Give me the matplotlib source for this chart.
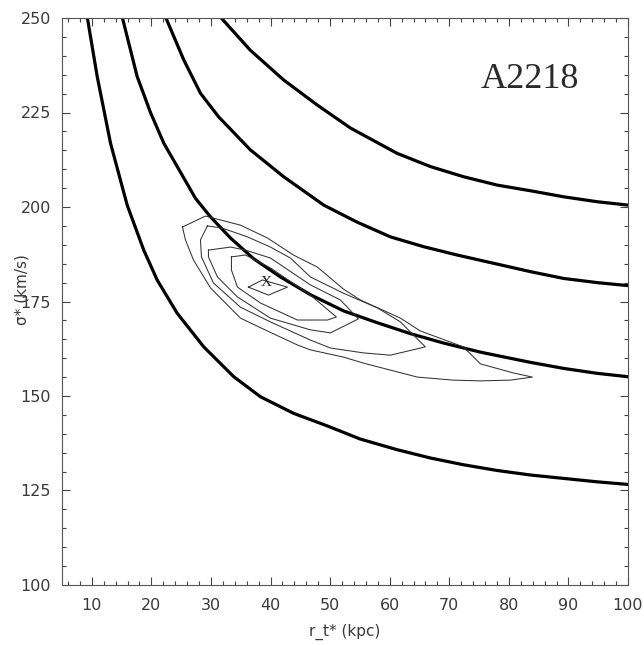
import matplotlib
matplotlib.use("Agg")
import matplotlib.pyplot as plt
from matplotlib.ticker import MultipleLocator

# Iso-mass curves (thick)
c1_r = [9.23, 10.91, 13.14, 15.94, 18.72, 20.97, 24.33, 28.79, 33.83, 38.31, 43.89, 49.50, 55.08, 61.24, 66.83, 72.42, 78.02, 83.62, 89.19, 94.80, 100]
c1_s = [250.3, 234.5, 216.9, 200.5, 188.6, 180.7, 171.9, 163.0, 155.1, 149.8, 145.4, 142.1, 138.6, 135.8, 133.6, 131.8, 130.3, 129.1, 128.2, 127.3, 126.6]

c2_r = [15.10, 17.62, 19.85, 22.08, 27.40, 29.92, 33.28, 37.18, 41.66, 46.69, 52.28, 57.89, 63.47, 69.06, 75.23, 83.62, 89.19, 94.80, 100]
c2_s = [250.3, 234.5, 225.0, 216.9, 202.3, 197.4, 191.8, 186.3, 181.5, 176.8, 172.5, 169.4, 166.5, 164.0, 161.6, 158.9, 157.3, 156.0, 155.1]

c3_r = [22.37, 25.44, 28.24, 31.26, 36.63, 42.21, 48.93, 54.53, 60.12, 65.70, 71.31, 76.90, 83.62, 89.19, 94.80, 100]
c3_s = [250.3, 238.9, 230.1, 223.9, 215.1, 208.0, 200.5, 196.0, 192.1, 189.5, 187.3, 185.3, 182.9, 181.1, 180.0, 179.2]

c4_r = [31.56, 36.59, 42.21, 47.82, 53.41, 61.24, 66.83, 72.42, 78.02, 83.62, 89.19, 94.80, 100]
c4_s = [250.3, 241.5, 233.6, 227.0, 220.9, 214.2, 210.7, 208.0, 205.8, 204.3, 202.7, 201.4, 200.5]

# Likelihood contours (thin polygons)
k1_r = [25.22, 29.08, 34.95, 39.48, 43.84, 47.87, 52.23, 55.08, 61.80, 65.15, 72.37, 75.23, 80.76, 83.95, 80.26, 75.23, 70.69, 64.65, 55.59, 52.23, 46.69, 44.51, 39.48, 34.95, 29.92, 27.06, 25.72, 25.22]
k1_s = [194.7, 197.6, 195.2, 191.8, 187.3, 184.1, 178.3, 175.4, 170.6, 167.2, 163.0, 158.5, 156.1, 155.0, 154.2, 154.0, 154.2, 155.0, 158.7, 160.3, 162.2, 163.5, 167.2, 170.6, 178.6, 186.0, 191.3, 194.7]

k2_r = [29.41, 31.93, 36.12, 39.98, 43.34, 46.69, 52.23, 57.94, 61.80, 65.15, 65.99, 60.12, 55.59, 50.05, 46.69, 39.98, 34.95, 30.42, 28.41, 28.24, 29.41]
k2_s = [195.0, 194.4, 192.1, 189.4, 186.5, 181.5, 177.2, 173.3, 169.6, 164.3, 163.0, 160.8, 161.4, 162.7, 164.8, 169.6, 173.5, 179.9, 186.8, 191.3, 195.0]

k3_r = [29.58, 33.28, 35.79, 39.98, 46.69, 51.73, 54.75, 50.05, 46.69, 39.98, 34.45, 31.09, 29.58, 29.58]
k3_s = [188.6, 189.4, 188.6, 186.5, 179.4, 175.4, 170.4, 166.7, 167.5, 170.6, 176.2, 181.5, 186.8, 188.6]

k4_r = [33.44, 35.79, 39.98, 46.69, 51.06, 49.55, 44.51, 38.31, 34.45, 33.44, 33.44]
k4_s = [186.8, 187.3, 183.9, 176.7, 170.9, 170.1, 170.1, 174.6, 178.8, 183.3, 186.8]

k5_r = [36.29, 38.64, 42.84, 39.65, 36.29]
k5_s = [178.8, 180.7, 178.8, 176.7, 178.8]

best_r, best_s = 39.3, 179.9

x_ticks = [10, 20, 30, 40, 50, 60, 70, 80, 90, 100]
y_ticks = [100, 125, 150, 175, 200, 225, 250]

fig = plt.figure(figsize=(6.44, 6.45), dpi=100)
ax = fig.add_axes([62/644, 1-585/645, 566/644, 567/645])

for r, s in [(c1_r, c1_s), (c2_r, c2_s), (c3_r, c3_s), (c4_r, c4_s)]:
    ax.plot(r, s, color="black", lw=2.3, solid_capstyle="butt", solid_joinstyle="round")

for r, s in [(k1_r, k1_s), (k2_r, k2_s), (k3_r, k3_s), (k4_r, k4_s), (k5_r, k5_s)]:
    ax.plot(r, s, color="#333333", lw=0.75)

ax.text(best_r, best_s, "X", family="Liberation Serif", fontsize=11, ha="center", va="center", color="#222222")
ax.text(83.6, 233.6, "A2218", family="Liberation Serif", fontsize=26, ha="center", va="center", color="#2a2a2a")

ax.set_xlim(5, 100)
ax.set_ylim(100, 250)
ax.set_xticks(x_ticks)
ax.set_yticks(y_ticks)
ax.xaxis.set_minor_locator(MultipleLocator(2))
ax.yaxis.set_minor_locator(MultipleLocator(5))
ax.tick_params(which="both", direction="in", top=True, right=True, color="#444444", width=0.8)
ax.tick_params(which="major", length=6)
ax.tick_params(which="minor", length=3)
ax.tick_params(axis="x", which="major", pad=9)
ax.tick_params(axis="y", which="major", pad=8)
for lab in ax.get_xticklabels() + ax.get_yticklabels():
    lab.set_fontsize(11.5)
    lab.set_color("#3a3a3a")
for sp in ax.spines.values():
    sp.set_color("#555555")
    sp.set_linewidth(0.8)

fig.text(345/644, 1-632/645, "r_t* (kpc)", ha="center", va="center", fontsize=11, color="#3a3a3a")
fig.text(22/644, 1-290/645, "σ* (km/s)", ha="center", va="center", rotation=90, fontsize=11, color="#3a3a3a")

fig.savefig("out.png", dpi=100)
